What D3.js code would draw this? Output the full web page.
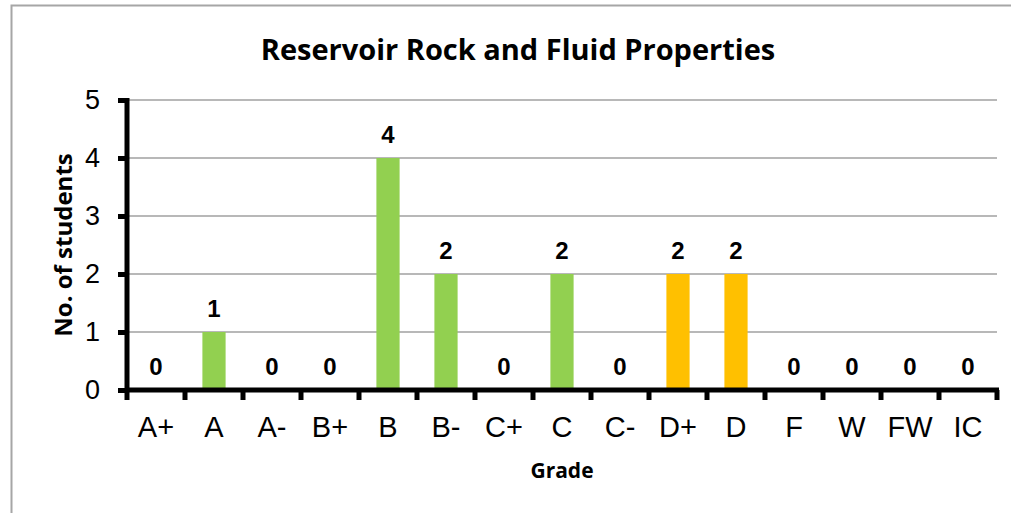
<!DOCTYPE html>
<html>
<head>
<meta charset="utf-8">
<script src="https://cdn.jsdelivr.net/npm/d3@7"></script>
<style>
  body { margin: 0; background: #fff; }
  svg { display: block; }
</style>
</head>
<body>
<div id="chart"></div>
<script>
var grades = ["A+", "A", "A-", "B+", "B", "B-", "C+", "C", "C-", "D+", "D", "F", "W", "FW", "IC"];
var students = [0, 1, 0, 0, 4, 2, 0, 2, 0, 2, 2, 0, 0, 0, 0];
var orangeGrades = ["D+", "D"];
var yTicks = [0, 1, 2, 3, 4, 5];

var fullWidth = 1011;
var fullHeight = 513;
var margin = {top: 100, right: 14, bottom: 123, left: 127};
var width = fullWidth - margin.left - margin.right;
var height = fullHeight - margin.top - margin.bottom;

var svg = d3.select("#chart")
  .append("svg")
  .attr("width", fullWidth)
  .attr("height", fullHeight);

// chart border (right and bottom sit outside the picture)
svg.append("rect")
  .attr("x", 11.5).attr("y", 5.5)
  .attr("width", 1100).attr("height", 600)
  .attr("fill", "none")
  .attr("stroke", "#a6a6a6")
  .attr("stroke-width", 2);

var g = svg.append("g")
  .attr("transform", "translate(" + margin.left + "," + margin.top + ")");

var xScale = d3.scaleBand().domain(grades).range([0, width]);
var yScale = d3.scaleLinear().domain([0, 5]).range([height, 0]);

// gridlines
g.selectAll(".grid")
  .data(yTicks.slice(1))
  .enter().append("line")
  .attr("x1", 0).attr("x2", width)
  .attr("y1", function(d) { return yScale(d); })
  .attr("y2", function(d) { return yScale(d); })
  .attr("stroke", "#a0a0a0")
  .attr("stroke-width", 1.5);

// bars
var barW = xScale.bandwidth() * 0.4;
g.selectAll(".bar")
  .data(grades)
  .enter().append("rect")
  .attr("x", function(d) { return xScale(d) + (xScale.bandwidth() - barW) / 2; })
  .attr("y", function(d, i) { return yScale(students[i]); })
  .attr("width", barW)
  .attr("height", function(d, i) { return height - yScale(students[i]); })
  .attr("fill", function(d) { return orangeGrades.indexOf(d) >= 0 ? "#ffc000" : "#92d050"; });

// data labels
g.selectAll(".lbl")
  .data(grades)
  .enter().append("text")
  .attr("x", function(d) { return xScale(d) + xScale.bandwidth() / 2; })
  .attr("y", function(d, i) { return yScale(students[i]) - 15; })
  .attr("text-anchor", "middle")
  .style("font-family", "'Liberation Sans', Arial, sans-serif")
  .style("font-weight", "bold")
  .style("font-size", "24px")
  .text(function(d, i) { return students[i]; });

// y axis
var yAxis = d3.axisLeft(yScale).tickValues(yTicks).tickFormat(d3.format("d"))
  .tickSize(9).tickPadding(18);
var yG = g.append("g").call(yAxis);
yG.select(".domain").attr("stroke", "#000").attr("stroke-width", 5)
  .attr("d", "M0," + (height + 2) + "V-2");
yG.selectAll(".tick line").attr("stroke", "#000").attr("stroke-width", 5);
yG.selectAll(".tick text")
  .style("font-family", "'Liberation Sans', Arial, sans-serif")
  .style("font-size", "27px")
  .attr("fill", "#000");

// x axis
var xTickPos = grades.map(function(d) { return xScale(d); }).concat([width]);
var xAxisG = g.append("g").attr("transform", "translate(0," + height + ")");
xAxisG.append("line")
  .attr("x1", -2).attr("x2", width + 2)
  .attr("stroke", "#000").attr("stroke-width", 5);
xAxisG.selectAll(".xt")
  .data(xTickPos)
  .enter().append("line")
  .attr("x1", function(d) { return d; }).attr("x2", function(d) { return d; })
  .attr("y1", 0).attr("y2", 10)
  .attr("stroke", "#000").attr("stroke-width", 5);
xAxisG.selectAll(".xl")
  .data(grades)
  .enter().append("text")
  .attr("x", function(d) { return xScale(d) + xScale.bandwidth() / 2; })
  .attr("y", 47)
  .attr("text-anchor", "middle")
  .style("font-family", "'Liberation Sans', Arial, sans-serif")
  .style("font-size", "29px")
  .text(function(d) { return d; });

// titles
svg.append("text")
  .attr("x", 518).attr("y", 60)
  .attr("text-anchor", "middle")
  .style("font-family", "'Open Sans', sans-serif")
  .style("font-weight", "bold")
  .style("font-size", "29px")
  .text("Reservoir Rock and Fluid Properties");

svg.append("text")
  .attr("x", margin.left + width / 2).attr("y", 478)
  .attr("text-anchor", "middle")
  .style("font-family", "'Open Sans', sans-serif")
  .style("font-weight", "bold")
  .style("font-size", "21px")
  .text("Grade");

svg.append("text")
  .attr("transform", "translate(72," + (margin.top + height / 2) + ") rotate(-90)")
  .attr("text-anchor", "middle")
  .style("font-family", "'Open Sans', sans-serif")
  .style("font-weight", "bold")
  .style("font-size", "24px")
  .text("No. of students");
</script>
</body>
</html>
